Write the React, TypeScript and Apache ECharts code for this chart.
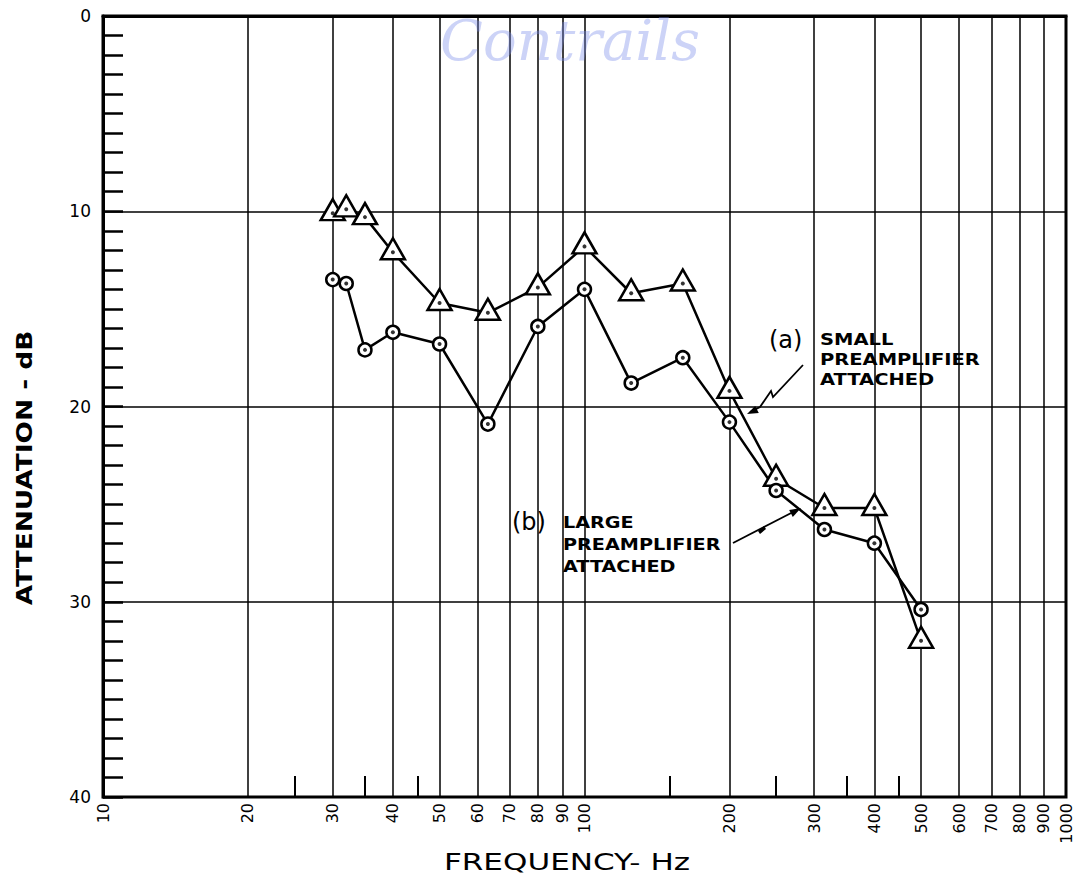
import React, { useEffect, useRef } from 'react';
import * as echarts from 'echarts';

// Data
const frequencies = [30, 32, 35, 40, 50, 63, 80, 100, 125, 160, 200, 250, 315, 400, 500];
const smallPreamp = [10.1, 9.9, 10.3, 12.1, 14.7, 15.2, 13.9, 11.8, 14.2, 13.7, 19.2, 23.7, 25.2, 25.2, 32.0];
const largePreamp = [13.5, 13.7, 17.1, 16.2, 16.8, 20.9, 15.9, 14.0, 18.8, 17.5, 20.8, 24.3, 26.3, 27.0, 30.4];

const xGridValues = [20, 30, 40, 50, 60, 70, 80, 90, 100, 200, 300, 400, 500, 600, 700, 800, 900, 1000];
const xLabelValues = [10, 20, 30, 40, 50, 60, 70, 80, 90, 100, 200, 300, 400, 500, 600, 700, 800, 900, 1000];
const xMinorTicks = [25, 35, 45, 150, 250, 350, 450];

const FONT = '"DejaVu Sans", sans-serif';

export default function App() {
  const ref = useRef<HTMLDivElement>(null);

  useEffect(() => {
    if (!ref.current) return;
    const chart = echarts.init(ref.current, null, { renderer: 'svg' });

    const smallData = frequencies.map((f, i) => [f, smallPreamp[i]]);
    const largeData = frequencies.map((f, i) => [f, largePreamp[i]]);

    const option: any = {
      animation: false,
      backgroundColor: '#fff',
      grid: {
        left: 103,
        top: 16,
        right: 7,
        bottom: 97,
        show: true,
        borderColor: '#000',
        borderWidth: 3,
        containLabel: false,
      },
      xAxis: [
        {
          type: 'log',
          logBase: 10,
          min: 10,
          max: 1000,
          axisLine: { show: true, lineStyle: { color: '#000', width: 3 } },
          axisTick: { show: false, customValues: xGridValues },
          splitLine: { show: true, lineStyle: { color: '#000', width: 1.5 } },
          minorTick: { show: false },
          minorSplitLine: { show: false },
          axisLabel: {
            customValues: xLabelValues,
            rotate: 90,
            fontSize: 16,
            fontFamily: FONT,
            color: '#000',
            margin: 6,
            formatter: (v: number) => String(Math.round(v)),
          },
        },
        {
          type: 'log',
          logBase: 10,
          min: 10,
          max: 1000,
          gridIndex: 0,
          position: 'bottom',
          axisLine: { show: false },
          axisLabel: { show: false },
          splitLine: { show: false },
          axisTick: {
            show: true,
            inside: true,
            length: 21,
            customValues: xMinorTicks,
            lineStyle: { color: '#000', width: 2 },
          },
        },
      ],
      yAxis: {
        type: 'value',
        min: 0,
        max: 40,
        interval: 10,
        inverse: true,
        axisLine: { show: true, lineStyle: { color: '#000', width: 3 } },
        axisTick: { show: true, inside: true, length: 20, lineStyle: { color: '#000', width: 2.5 } },
        minorTick: { show: true, splitNumber: 10, length: 20, lineStyle: { color: '#000', width: 2.5 } },
        splitLine: { show: true, lineStyle: { color: '#000', width: 1.5 } },
        axisLabel: { color: '#000', fontSize: 17, fontFamily: FONT, margin: 12 },
      },
      series: [
        {
          name: '(a) Small preamplifier attached',
          type: 'line',
          xAxisIndex: 0,
          data: smallData,
          symbol: 'triangle',
          symbolSize: [24, 21],
          symbolOffset: [0, -3.5],
          itemStyle: { color: '#fff', borderColor: '#000', borderWidth: 2.5 },
          lineStyle: { color: '#000', width: 2.5 },
          z: 3,
        },
        {
          name: '(b) Large preamplifier attached',
          type: 'line',
          xAxisIndex: 0,
          data: largeData,
          symbol: 'circle',
          symbolSize: 13,
          itemStyle: { color: '#fff', borderColor: '#000', borderWidth: 2.5 },
          lineStyle: { color: '#000', width: 2.5 },
          z: 3,
        },
        {
          name: 'dots',
          type: 'scatter',
          xAxisIndex: 0,
          data: [...smallData, ...largeData],
          symbol: 'circle',
          symbolSize: 4,
          itemStyle: { color: '#000' },
          z: 5,
          silent: true,
        },
      ],
      graphic: [
        {
          type: 'text',
          x: 570,
          y: 40,
          z: 10,
          style: {
            text: 'Contrails',
            font: 'italic 56px "DejaVu Serif", serif',
            fill: 'rgba(120,140,235,0.38)',
            textAlign: 'center',
            textVerticalAlign: 'middle',
          },
        },
        {
          type: 'text',
          x: 24,
          y: 468,
          rotation: Math.PI / 2,
          scaleX: 1.2,
          style: {
            text: 'ATTENUATION - dB',
            font: 'bold 22px ' + FONT,
            fill: '#000',
            textAlign: 'center',
            textVerticalAlign: 'middle',
          },
        },
        {
          type: 'text',
          x: 567,
          y: 862,
          scaleX: 1.35,
          style: {
            text: 'FREQUENCY- Hz',
            font: '23px ' + FONT,
            fill: '#000',
            textAlign: 'center',
            textVerticalAlign: 'middle',
          },
        },
        // annotation (a)
        {
          type: 'text',
          x: 769,
          y: 340,
          style: { text: '(a)', font: '24px ' + FONT, fill: '#000', textVerticalAlign: 'middle' },
        },
        {
          type: 'text',
          x: 820,
          y: 330,
          scaleX: 1.3,
          style: {
            text: 'SMALL\nPREAMPLIFIER\nATTACHED',
            font: 'bold 15px ' + FONT,
            lineHeight: 20,
            fill: '#000',
            verticalAlign: 'top',
          },
        },
        {
          type: 'polyline',
          shape: { points: [[803, 365], [773, 397], [771, 391], [760, 407], [750, 412]] },
          style: { stroke: '#000', lineWidth: 1.8, fill: null },
        },
        {
          type: 'polygon',
          shape: { points: [[747, 414], [758.8, 413.1], [755.2, 405.9]] },
          style: { fill: '#000' },
        },
        // annotation (b)
        {
          type: 'text',
          x: 512,
          y: 522,
          style: { text: '(b)', font: '24px ' + FONT, fill: '#000', textVerticalAlign: 'middle' },
        },
        {
          type: 'text',
          x: 563,
          y: 512,
          scaleX: 1.28,
          style: {
            text: 'LARGE\nPREAMPLIFIER\nATTACHED',
            font: 'bold 15px ' + FONT,
            lineHeight: 22,
            fill: '#000',
            verticalAlign: 'top',
          },
        },
        {
          type: 'polyline',
          shape: { points: [[733, 543], [797, 510]] },
          style: { stroke: '#000', lineWidth: 1.8, fill: null },
        },
        {
          type: 'polygon',
          shape: { points: [[801, 508], [792.8, 517.1], [789.2, 509.9]] },
          style: { fill: '#000' },
        },
        {
          type: 'polygon',
          shape: { points: [[758, 531], [764, 526], [766, 529], [760, 534]] },
          style: { fill: '#000' },
        },
      ],
    };

    chart.setOption(option);
    return () => {
      chart.dispose();
    };
  }, []);

  return (
    <div
      ref={ref}
      style={{ position: 'fixed', left: 0, top: 0, width: 1074, height: 894, background: '#fff' }}
    />
  );
}
